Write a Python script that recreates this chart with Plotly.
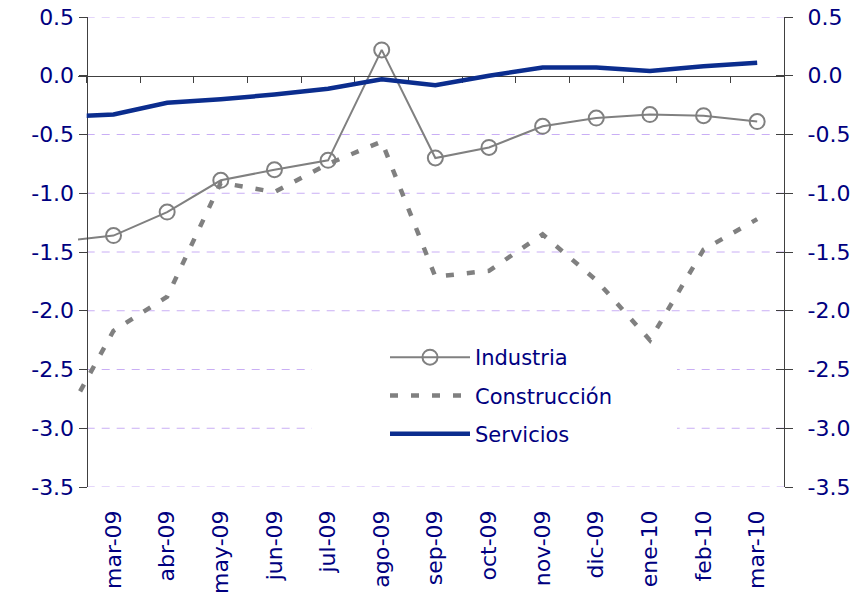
import plotly.graph_objects as go

# ---- data ----
months = ["feb-09", "mar-09", "abr-09", "may-09", "jun-09", "jul-09", "ago-09",
          "sep-09", "oct-09", "nov-09", "dic-09", "ene-10", "feb-10", "mar-10"]
industria = [-1.41, -1.36, -1.16, -0.89, -0.80, -0.72, 0.22,
             -0.70, -0.61, -0.43, -0.36, -0.33, -0.34, -0.39]
construccion = [-3.00, -2.17, -1.88, -0.91, -0.99, -0.75, -0.56,
                -1.71, -1.66, -1.35, -1.74, -2.25, -1.48, -1.22]
servicios = [-0.35, -0.33, -0.23, -0.20, -0.16, -0.11, -0.03,
             -0.08, -0.00, 0.07, 0.07, 0.04, 0.08, 0.11]
y_ticks = [0.5, 0.0, -0.5, -1.0, -1.5, -2.0, -2.5, -3.0, -3.5]

# ---- styling ----
NAVY_TXT = "#000080"
GRAY = "#808080"
BLUE = "#0B2D8E"
GRID = "#C9AEF5"
AXIS = "#404040"
FONT = "DejaVu Sans"
FS_TICK = 22
FS_LEG = 21

# the page body has an 8px margin, so the figure starts at (8, 8)
OFF = 8
W, H = 852, 585
ML, MR, MT, MB = 70, 76, 9, 106
PW, PH = W - ML - MR, H - MT - MB

Y_RANGE = [-3.5, 0.5]
n = len(months)
x_lo = 0.338           # plot area starts a little left of the value axis
x_axis_pos = 0.5       # category boundary where the value axis sits
x_hi = n - 0.5
dom0 = (x_axis_pos - x_lo) / (x_hi - x_lo)


def px_x(p):
    return (p - OFF - ML) / PW


def px_y(p):
    return 1 - (p - OFF - MT) / PH


def ax_x(p):
    return x_lo + px_x(p) * (x_hi - x_lo)


def ax_y(p):
    return Y_RANGE[0] + px_y(p) * (Y_RANGE[1] - Y_RANGE[0])


fig = go.Figure()

fig.add_trace(go.Scatter(
    x=months, y=industria, name="Industria", mode="lines+markers",
    line=dict(color=GRAY, width=2),
    marker=dict(symbol="circle-open", size=15, color=GRAY, line=dict(width=2)),
    xaxis="x", yaxis="y", legendgroup="a"))
fig.add_trace(go.Scatter(
    x=months, y=construccion, name="Construcción", mode="lines",
    line=dict(color=GRAY, width=4.5, dash="8px,13px"),
    xaxis="x", yaxis="y", legendgroup="b"))
fig.add_trace(go.Scatter(
    x=months, y=servicios, name="Servicios", mode="lines",
    line=dict(color=BLUE, width=4.5),
    xaxis="x2", yaxis="y2", legendgroup="c"))

# gridlines (dashed lavender) spanning from the value axis to the right edge
for v in y_ticks:
    if v == 0:
        continue
    fig.add_shape(type="line", xref="x3", yref="y4", x0=x_axis_pos, x1=x_hi,
                  y0=v, y1=v, layer="below",
                  line=dict(color=GRID, width=1, dash="8px,7px"))

# white legend panel (hides gridlines behind the legend, as in the original)
fig.add_shape(type="rect", xref="x3", yref="y4",
              x0=ax_x(312), x1=ax_x(677), y0=ax_y(478), y1=ax_y(346),
              layer="below", line=dict(width=0), fillcolor="white")

tickfont = dict(family=FONT, size=FS_TICK, color=NAVY_TXT)
ytext = [f"{v:.1f}" for v in y_ticks]

fig.update_layout(
    width=W, height=H,
    margin=dict(l=ML, r=MR, t=MT, b=MB, autoexpand=False),
    paper_bgcolor="white", plot_bgcolor="rgba(0,0,0,0)",
    font=dict(family=FONT, size=FS_LEG, color=NAVY_TXT),
    showlegend=True,
    legend=dict(
        x=px_x(385), y=px_y(337), xanchor="left", yanchor="top",
        bgcolor="rgba(0,0,0,0)", borderwidth=0,
        font=dict(family=FONT, size=FS_LEG, color=NAVY_TXT),
        traceorder="grouped", tracegroupgap=8,
        itemwidth=80),
    xaxis=dict(
        type="category", categoryorder="array", categoryarray=months,
        domain=[0, 1], range=[x_lo, x_hi], anchor="y", automargin=False,
        showgrid=False, zeroline=False, showline=False, ticks="",
        tickangle=-90, tickfont=tickfont, ticklabelstandoff=18,
        ticklabeloverflow="allow",
        tickvals=months[1:], ticktext=months[1:]),
    # left value axis
    yaxis=dict(
        domain=[0, 1], range=Y_RANGE, anchor="free", position=dom0,
        automargin=False, ticklabeloverflow="allow",
        showgrid=False, zeroline=False, showline=True, linecolor=AXIS,
        linewidth=1.3, ticks="outside", ticklen=8, tickcolor=AXIS,
        tickvals=y_ticks, ticktext=ytext,
        tickfont=tickfont, side="left"),
    xaxis2=dict(
        type="category", categoryorder="array", categoryarray=months,
        domain=[dom0, 1], range=[x_axis_pos, x_hi], anchor="y2",
        visible=False, automargin=False),
    # right value axis
    yaxis2=dict(
        domain=[0, 1], range=Y_RANGE, anchor="x2", side="right",
        automargin=False, ticklabeloverflow="allow",
        showgrid=False, zeroline=False, showline=True, linecolor=AXIS,
        linewidth=1.3, ticks="outside", ticklen=8, tickcolor=AXIS,
        tickvals=y_ticks, ticktext=ytext,
        tickfont=tickfont, ticklabelstandoff=10),
    # category-axis line drawn where values cross zero, with boundary ticks
    xaxis3=dict(
        overlaying="x", range=[x_lo, x_hi], anchor="free", automargin=False,
        position=(0 - Y_RANGE[0]) / (Y_RANGE[1] - Y_RANGE[0]), side="bottom",
        showgrid=False, zeroline=False, showline=True, linecolor=AXIS,
        linewidth=1.3, ticks="outside", ticklen=6, tickcolor=AXIS,
        tickvals=[k + 0.5 for k in range(n)], showticklabels=False),
    # inner half of the crossing ticks on the right axis
    yaxis4=dict(
        overlaying="y", side="right", anchor="free", position=1,
        range=Y_RANGE, automargin=False,
        showgrid=False, zeroline=False, showline=False,
        ticks="inside", ticklen=8, tickcolor=AXIS,
        tickvals=y_ticks, showticklabels=False),
)

fig.write_html("out.html")
